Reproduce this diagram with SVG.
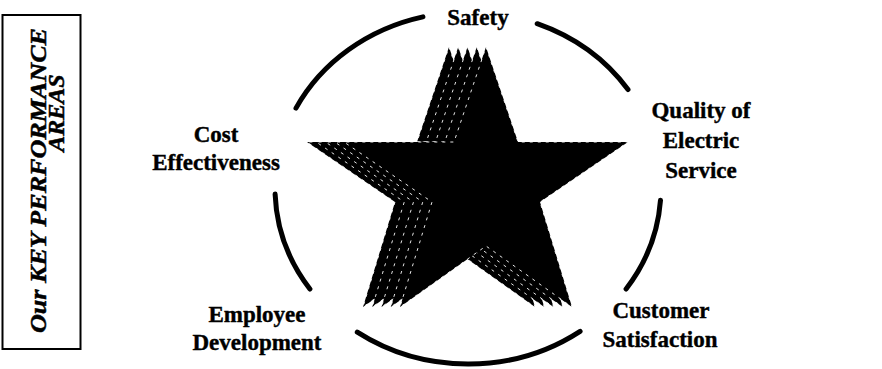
<svg xmlns="http://www.w3.org/2000/svg" xmlns:xlink="http://www.w3.org/1999/xlink" width="882" height="369" viewBox="0 0 882 369">
<style>
.lbl{font-family:"Liberation Serif","Times New Roman",serif;font-weight:bold;font-size:23px;fill:#000;stroke:#000;stroke-width:0.4;text-anchor:middle}
.box{font-family:"Liberation Serif","Times New Roman",serif;font-weight:bold;font-style:italic;font-size:24px;fill:#000;stroke:#000;stroke-width:0.5;text-anchor:middle}
.ring{fill:none;stroke:#000;stroke-width:5;stroke-linecap:round}
.layer{fill:#000;stroke:#fff;stroke-width:0.9;stroke-dasharray:3 5;stroke-linejoin:miter}
</style>
<defs>
<polygon id="star" points="486,47 518,142 628,142 540,202 572,307 486,246 400,307 432,202 344,142 454,142"/>
</defs>
<rect width="882" height="369" fill="#fff"/>
<g id="kpa-box">
<rect x="2.5" y="15" width="78" height="334" fill="none" stroke="#000" stroke-width="2"/>
<text class="box" transform="translate(46,180.5) rotate(-90)" textLength="305" lengthAdjust="spacingAndGlyphs">Our KEY PERFORMANCE</text>
<text class="box" transform="translate(64,113) rotate(-90)">AREAS</text>
</g>
<g id="star-node">
<use xlink:href="#star" class="layer" transform="translate(-37,0)"/>
<use xlink:href="#star" class="layer" transform="translate(-27.75,0)"/>
<use xlink:href="#star" class="layer" transform="translate(-18.5,0)"/>
<use xlink:href="#star" class="layer" transform="translate(-9.25,0)"/>
<use xlink:href="#star" class="layer"/>
</g>
<g id="connectors">
<path class="ring" d="M296,108.1 A193,176 0 0 1 422.9,16.9"/>
<path class="ring" d="M537.2,23.7 A193,176 0 0 1 628,89.6"/>
<path class="ring" d="M660.5,200.3 A193,176 0 0 1 626.1,289"/>
<path class="ring" d="M580.1,331.3 A193,176 0 0 1 357.3,332.2"/>
<path class="ring" d="M309.9,289 A193,176 0 0 1 275.1,194.1"/>
</g>
<g id="safety"><text class="lbl" x="478" y="25">Safety</text></g>
<g id="quality"><text class="lbl" x="701" y="118">Quality of</text><text class="lbl" x="701" y="148">Electric</text><text class="lbl" x="701" y="178">Service</text></g>
<g id="customer"><text class="lbl" x="661" y="318">Customer</text><text class="lbl" x="660" y="347">Satisfaction</text></g>
<g id="employee"><text class="lbl" x="257" y="322">Employee</text><text class="lbl" x="257" y="350">Development</text></g>
<g id="cost"><text class="lbl" x="216" y="142">Cost</text><text class="lbl" x="216" y="170">Effectiveness</text></g>
</svg>
